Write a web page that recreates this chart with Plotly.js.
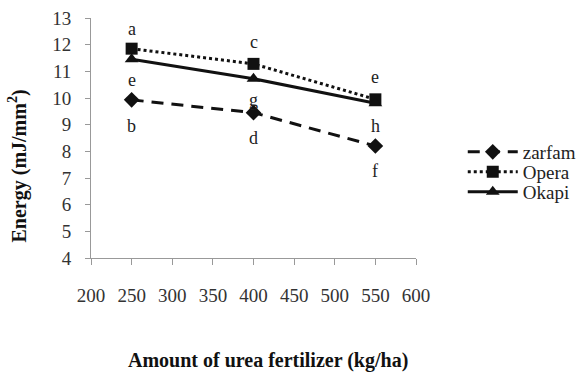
<!DOCTYPE html>
<html>
<head>
<meta charset="utf-8">
<script src="https://cdn.plot.ly/plotly-3.0.1.min.js"></script>
<style>html,body{margin:0;padding:0;background:#fff;}#chart{width:577px;height:373px;}</style>
</head>
<body>
<div id="chart"></div>
<script>
var urea = [250, 400, 550];
var zarfam = [9.93, 9.45, 8.2];
var opera = [11.85, 11.28, 9.95];
var okapi = [11.45, 10.72, 9.8];
var letterX = [250, 250, 250, 400, 400, 400, 550, 550, 550];
var letterY = [11.85, 11.45, 9.93, 11.28, 10.72, 9.45, 9.95, 9.8, 8.2];
var letters = ['a', 'e', 'b', 'c', 'g', 'd', 'e', 'h', 'f'];
var letterShift = [20, -21, -26, 22, -21, -25, 22, -23, -25];
var xTitle = 'Amount of urea fertilizer (kg/ha)';
var yTitle = 'Energy (mJ/mm<sup>2</sup>)';

var serif = 'Liberation Serif, serif';

var traces = [
  {x: urea, y: zarfam, name: 'zarfam', mode: 'lines+markers', legend: 'legend',
   line: {color: '#111', width: 3, dash: '12px,8px'},
   marker: {symbol: 'diamond', size: 12, color: '#111'}},
  {x: urea, y: opera, name: 'Opera', mode: 'lines+markers', legend: 'legend2',
   line: {color: '#111', width: 3, dash: 'dot'},
   marker: {symbol: 'square', size: 12, color: '#111'}},
  {x: urea, y: okapi, name: 'Okapi', mode: 'lines+markers', legend: 'legend3',
   line: {color: '#111', width: 3},
   marker: {symbol: 'triangle-up', size: 12, color: '#111'}}
];

var annotations = letters.map(function (t, i) {
  return {x: letterX[i], y: letterY[i], xref: 'x', yref: 'y', text: t,
    showarrow: false, yshift: letterShift[i],
    font: {family: serif, size: 18, color: '#222'}};
});
annotations.push({xref: 'paper', yref: 'paper', x: 0.545, y: -0.425,
  xanchor: 'center', yanchor: 'middle', showarrow: false, text: '<b>' + xTitle + '</b>',
  font: {family: serif, size: 20, color: '#111'}});
annotations.push({xref: 'paper', yref: 'paper', x: -0.225, y: 0.385,
  xanchor: 'center', yanchor: 'middle', showarrow: false, textangle: -90,
  text: '<b>' + yTitle + '</b>',
  font: {family: serif, size: 20, color: '#111'}});

function leg(yc) {
  return {xref: 'container', yref: 'container', x: 0.802, y: yc,
    xanchor: 'left', yanchor: 'middle', bgcolor: 'rgba(0,0,0,0)',
    font: {family: serif, size: 19, color: '#222'}, itemwidth: 50};
}

var layout = {
  width: 577, height: 373,
  margin: {l: 91, r: 161, t: 18, b: 115},
  paper_bgcolor: '#fff', plot_bgcolor: '#fff',
  font: {family: serif, color: '#222'},
  showlegend: true,
  legend: leg(1 - 152 / 373),
  legend2: leg(1 - 172 / 373),
  legend3: leg(1 - 192 / 373),
  xaxis: {range: [200, 600], tickvals: [200, 250, 300, 350, 400, 450, 500, 550, 600],
    showline: true, linecolor: '#999', linewidth: 1, ticks: 'outside', ticklen: 6,
    tickcolor: '#999', showgrid: false, zeroline: false, ticklabelstandoff: 14,
    tickfont: {family: serif, size: 19, color: '#333'}},
  yaxis: {range: [4, 13], dtick: 1, showline: true, linecolor: '#999', linewidth: 1,
    ticks: 'outside', ticklen: 5, tickcolor: '#999', showgrid: false, zeroline: false,
    ticklabelstandoff: 10,
    tickfont: {family: serif, size: 19, color: '#333'}},
  annotations: annotations
};

Plotly.newPlot('chart', traces, layout, {displayModeBar: false, staticPlot: true});
</script>
</body>
</html>
